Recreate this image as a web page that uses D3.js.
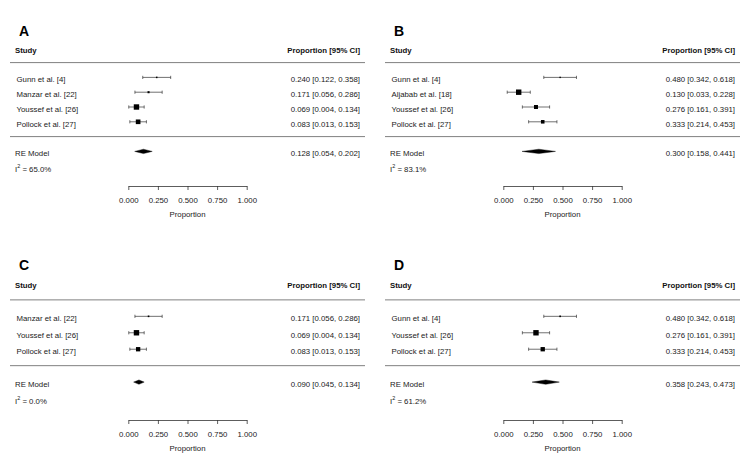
<!DOCTYPE html>
<html>
<head>
<meta charset="utf-8">
<script src="https://cdn.jsdelivr.net/npm/d3@7"></script>
<style>
  html, body { margin: 0; padding: 0; background: #fff; }
  svg { display: block; font-family: "Liberation Sans", Arial, sans-serif; }
</style>
</head>
<body>
<svg id="chart" width="750" height="467"></svg>
<script>
// ---------------- DATA ----------------
const panelLetters = ["A", "B", "C", "D"];

const studiesA = ["Gunn et al. [4]", "Manzar et al. [22]", "Youssef et al. [26]", "Pollock et al. [27]"];
const estA  = [0.240, 0.171, 0.069, 0.083];
const lowA  = [0.122, 0.056, 0.004, 0.013];
const highA = [0.358, 0.286, 0.134, 0.153];
const weightA = [0.28, 0.38, 1.00, 0.86];
const reA = [0.128, 0.054, 0.202];
const i2A = "65.0";

const studiesB = ["Gunn et al. [4]", "Aljabab et al. [18]", "Youssef et al. [26]", "Pollock et al. [27]"];
const estB  = [0.480, 0.130, 0.276, 0.333];
const lowB  = [0.342, 0.033, 0.161, 0.214];
const highB = [0.618, 0.228, 0.391, 0.453];
const weightB = [0.26, 1.00, 0.74, 0.66];
const reB = [0.300, 0.158, 0.441];
const i2B = "83.1";

const studiesC = ["Manzar et al. [22]", "Youssef et al. [26]", "Pollock et al. [27]"];
const estC  = [0.171, 0.069, 0.083];
const lowC  = [0.056, 0.004, 0.013];
const highC = [0.286, 0.134, 0.153];
const weightC = [0.30, 1.00, 0.80];
const reC = [0.090, 0.045, 0.134];
const i2C = "0.0";

const studiesD = ["Gunn et al. [4]", "Youssef et al. [26]", "Pollock et al. [27]"];
const estD  = [0.480, 0.276, 0.333];
const lowD  = [0.342, 0.161, 0.214];
const highD = [0.618, 0.391, 0.453];
const weightD = [0.30, 1.00, 0.80];
const reD = [0.358, 0.243, 0.473];
const i2D = "61.2";

const axisTicks = [0, 0.25, 0.5, 0.75, 1.0];
const headerLeft = "Study";
const headerRight = "Proportion [95% CI]";
const reLabel = "RE Model";
const axisTitle = "Proportion";

// ---------------- LAYOUT ----------------
const svg = d3.select("#chart");
const fmt = d3.format(".3f");
const FS = 7.8;

const panels = [
  { letter: panelLetters[0], studies: studiesA, est: estA, low: lowA, high: highA, w: weightA, re: reA, i2: i2A, ox: 0,   oy: 0 },
  { letter: panelLetters[1], studies: studiesB, est: estB, low: lowB, high: highB, w: weightB, re: reB, i2: i2B, ox: 375, oy: 0 },
  { letter: panelLetters[2], studies: studiesC, est: estC, low: lowC, high: highC, w: weightC, re: reC, i2: i2C, ox: 0,   oy: 234 },
  { letter: panelLetters[3], studies: studiesD, est: estD, low: lowD, high: highD, w: weightD, re: reD, i2: i2D, ox: 375, oy: 234 }
];

const sizeScale = d3.scaleLinear().domain([0, 1]).range([0, 5.4]);

panels.forEach(p => {
  const g = svg.append("g").attr("transform", `translate(${p.ox},${p.oy})`);
  const k = p.studies.length;
  const x = d3.scaleLinear().domain([0, 1]).range([128.3, 246.7]);
  const y = d3.scaleLinear().domain([-3, k + 3]).range([181, 33]);
  const tOff = 2.3;

  // panel letter
  g.append("text").attr("x", 19).attr("y", 30.5).attr("dominant-baseline", "central")
    .attr("font-size", 14).attr("font-weight", "bold").attr("fill", "#000").text(p.letter);

  // headers
  g.append("text").attr("x", 15).attr("y", y(k + 2) + tOff).attr("dominant-baseline", "central")
    .attr("font-size", FS).attr("font-weight", "bold").attr("fill", "#111").text(headerLeft);
  g.append("text").attr("x", 360).attr("y", y(k + 2) + tOff).attr("dominant-baseline", "central")
    .attr("text-anchor", "end")
    .attr("font-size", FS).attr("font-weight", "bold").attr("fill", "#111").text(headerRight);

  // separator lines
  [k + 1, 0].forEach(v => {
    g.append("line").attr("x1", 10).attr("x2", 365).attr("y1", y(v)).attr("y2", y(v))
      .attr("stroke", "#808080").attr("stroke-width", 1);
  });

  // study rows
  p.studies.forEach((s, i) => {
    const row = k - i;
    const yy = y(row);
    g.append("text").attr("x", 16.5).attr("y", yy + tOff).attr("dominant-baseline", "central")
      .attr("font-size", FS).attr("fill", "#222").text(s);
    g.append("text").attr("x", 360).attr("y", yy + tOff).attr("dominant-baseline", "central")
      .attr("text-anchor", "end").attr("font-size", FS).attr("fill", "#222")
      .text(`${fmt(p.est[i])} [${fmt(p.low[i])}, ${fmt(p.high[i])}]`);
    // CI
    g.append("line").attr("x1", x(p.low[i])).attr("x2", x(p.high[i])).attr("y1", yy).attr("y2", yy)
      .attr("stroke", "#333").attr("stroke-width", 0.7);
    [p.low[i], p.high[i]].forEach(v => {
      g.append("line").attr("x1", x(v)).attr("x2", x(v)).attr("y1", yy - 1.6).attr("y2", yy + 1.6)
        .attr("stroke", "#333").attr("stroke-width", 0.7);
    });
    const sz = Math.max(1.3, sizeScale(p.w[i]));
    g.append("rect").attr("x", x(p.est[i]) - sz / 2).attr("y", yy - sz / 2)
      .attr("width", sz).attr("height", sz).attr("fill", "#000");
  });

  // RE model
  const yr = y(-1);
  g.append("text").attr("x", 15).attr("y", yr + tOff).attr("dominant-baseline", "central")
    .attr("font-size", FS).attr("fill", "#222").text(reLabel);
  g.append("text").attr("x", 360).attr("y", yr + tOff).attr("dominant-baseline", "central")
    .attr("text-anchor", "end").attr("font-size", FS).attr("fill", "#222")
    .text(`${fmt(p.re[0])} [${fmt(p.re[1])}, ${fmt(p.re[2])}]`);
  const h = 2.2;
  const pts = [[x(p.re[1]), yr], [x(p.re[0]), yr - h], [x(p.re[2]), yr], [x(p.re[0]), yr + h]];
  g.append("polygon").attr("points", pts.map(d => d.join(",")).join(" "))
    .attr("fill", "#000").attr("stroke", "#000").attr("stroke-width", 0.4);

  // I^2
  const i2t = g.append("text").attr("x", 15).attr("y", y(-2) + tOff).attr("dominant-baseline", "central")
    .attr("font-size", FS).attr("fill", "#222");
  i2t.append("tspan").text("I");
  i2t.append("tspan").attr("font-size", FS * 0.7).attr("dy", -3).text("2");
  i2t.append("tspan").attr("dy", 3).text(` = ${p.i2}%`);

  // axis
  const ax = g.append("g").attr("transform", "translate(0,186)")
    .call(d3.axisBottom(x).tickValues(axisTicks).tickFormat(fmt).tickSize(4).tickSizeOuter(0).tickPadding(7));
  ax.selectAll("path, line").attr("stroke", "#333").attr("stroke-width", 0.8);
  ax.selectAll("text").attr("font-size", FS).attr("font-family", "Liberation Sans, Arial, sans-serif")
    .attr("fill", "#222");

  g.append("text").attr("x", (x(0) + x(1)) / 2).attr("y", 214.5).attr("dominant-baseline", "central")
    .attr("text-anchor", "middle").attr("font-size", FS).attr("fill", "#222").text(axisTitle);
});
</script>
</body>
</html>
